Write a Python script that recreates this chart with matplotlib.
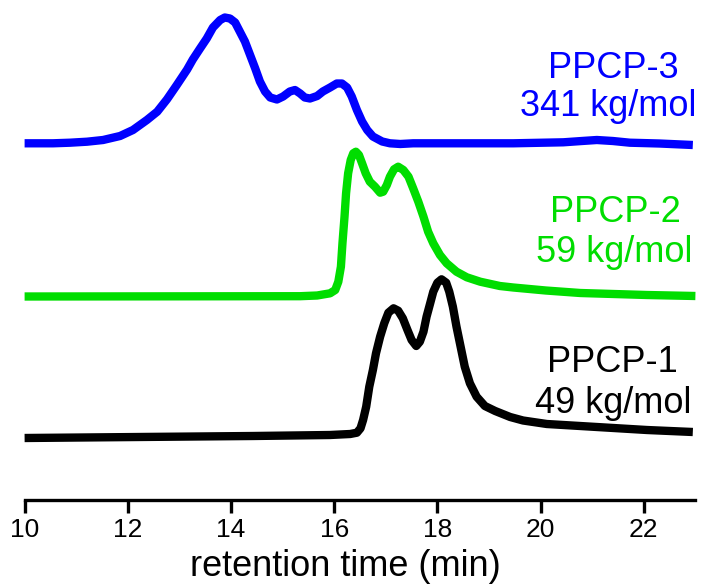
import matplotlib
matplotlib.use("Agg")
import matplotlib.pyplot as plt

W, H = 701, 585
DPI = 100

# ---------------- data ----------------
# retention time (min) and detector signal (arbitrary units, relative to each baseline)
t_ppcp3 = [10.0, 10.55, 10.88, 11.21, 11.52, 11.85, 12.10, 12.37, 12.57, 12.76, 12.95,
           13.15, 13.26, 13.40, 13.53, 13.65, 13.79, 13.88, 13.98, 14.08, 14.17, 14.27,
           14.37, 14.47, 14.56, 14.66, 14.76, 14.89, 15.01, 15.14, 15.24, 15.34, 15.43,
           15.53, 15.67, 15.78, 15.92, 16.05, 16.15, 16.25, 16.34, 16.44, 16.54, 16.64,
           16.75, 16.93, 17.08, 17.28, 17.53, 19.47, 20.44, 20.80, 21.09, 21.40, 21.73,
           22.30, 22.95]
s_ppcp3 = [0.2, 0.2, 0.8, 1.8, 3.5, 7.5, 13.5, 23.5, 31.8, 44.2, 58.5,
           74.0, 84.0, 95.0, 105.0, 116.0, 123.5, 126.0, 125.0, 121.0, 112.0, 102.0,
           88.5, 75.0, 62.0, 52.0, 46.0, 44.0, 47.0, 52.0, 53.5, 50.0, 46.0,
           45.0, 47.5, 52.0, 56.0, 60.0, 60.0, 56.0, 47.0, 33.5, 22.0, 13.5,
           7.0, 2.0, 0.2, -0.5, 0.2, 0.2, 1.2, 2.5, 3.5, 2.5, 0.8,
           0.0, -1.5]

t_ppcp2 = [10.0, 15.34, 15.67, 15.92, 16.02, 16.08, 16.13, 16.16, 16.20, 16.23, 16.27,
           16.32, 16.37, 16.42, 16.48, 16.54, 16.61, 16.69, 16.79, 16.89, 16.95, 17.02,
           17.08, 17.16, 17.24, 17.34, 17.44, 17.53, 17.63, 17.73, 17.82, 17.92, 18.05,
           18.18, 18.37, 18.57, 18.83, 19.21, 19.47, 20.10, 20.77, 22.06, 23.0]
s_ppcp2 = [0.0, 0.3, 1.0, 3.2, 6.5, 14.8, 29.8, 53.2, 79.8, 103.2, 123.2,
           136.5, 143.2, 144.8, 141.5, 133.2, 123.2, 114.8, 109.8, 103.8, 104.8, 111.5,
           119.8, 127.2, 129.8, 126.5, 119.8, 108.2, 94.8, 79.8, 64.8, 53.2, 41.5,
           33.2, 24.8, 19.2, 14.8, 10.5, 9.0, 6.0, 3.5, 1.5, 0.5]

t_ppcp1 = [10.0, 14.43, 15.92, 16.31, 16.44, 16.51, 16.56, 16.62, 16.68, 16.75, 16.81,
           16.89, 16.97, 17.05, 17.15, 17.24, 17.33, 17.42, 17.50, 17.59, 17.66, 17.73,
           17.79, 17.86, 17.92, 18.00, 18.08, 18.17, 18.23, 18.30, 18.37, 18.45, 18.53,
           18.63, 18.76, 18.92, 19.12, 19.41, 19.66, 20.12, 21.09, 22.06, 22.95]
s_ppcp1 = [0.0, 2.0, 3.0, 4.0, 5.3, 9.7, 18.0, 31.3, 51.3, 68.0, 84.7,
           101.3, 114.7, 125.3, 129.7, 127.3, 119.7, 108.0, 98.0, 92.0, 96.3, 106.3,
           121.3, 134.7, 146.3, 155.3, 158.7, 155.3, 146.3, 131.3, 111.3, 91.3, 71.3,
           54.7, 41.3, 32.0, 27.0, 21.0, 17.5, 14.0, 11.0, 8.0, 6.0]

names = ["PPCP-3", "PPCP-2", "PPCP-1"]
mw_labels = ["341 kg/mol", "59 kg/mol", "49 kg/mol"]
colors = ["#0000FF", "#00DD00", "#000000"]
offsets = [441.5, 288.5, 147.0]   # vertical stacking offsets of the traces

x_ticks = [10, 12, 14, 16, 18, 20, 22]
x_label = "retention time (min)"

# ---------------- figure ----------------
fig = plt.figure(figsize=(W / DPI, H / DPI), dpi=DPI)
axis_px = 500.0            # y pixel of the x-axis line (from top)
left_px, right_px = 24.6, 695.4
ax = fig.add_axes([left_px / W, (H - axis_px) / H, (right_px - left_px) / W, axis_px / H])
ax.set_xlim(10, 23)
ax.set_ylim(H - axis_px, H)

series = [(t_ppcp3, s_ppcp3), (t_ppcp2, s_ppcp2), (t_ppcp1, s_ppcp1)]
for (t, s), off, c in zip(series, offsets, colors):
    ax.plot(t, [off + v for v in s], color=c, lw=6.0, solid_capstyle="butt",
            solid_joinstyle="round", clip_on=False)

for sp in ["top", "right", "left"]:
    ax.spines[sp].set_visible(False)
ax.spines["bottom"].set_linewidth(2.4)
ax.set_yticks([])
ax.set_xticks(x_ticks)
ax.set_xticklabels([str(v) for v in x_ticks], fontfamily="Liberation Sans", fontsize=19)
ax.tick_params(axis="x", direction="out", length=9, width=2.4, pad=4)
ax.set_xlabel(x_label, fontfamily="Liberation Sans", fontsize=26)
ax.xaxis.label.set_va("center")
ax.xaxis.set_label_coords((345 - left_px) / (right_px - left_px), (H - 566 - (H - axis_px)) / axis_px)
ax.patch.set_alpha(0)

# labels at right
label_pos = [((613, 78), (608, 116)), ((615, 222), (614, 262)), ((612, 372), (613, 413))]
for (p1, p2), n, m, c in zip(label_pos, names, mw_labels, colors):
    fig.text(p1[0] / W, 1 - p1[1] / H, n, color=c, fontsize=26, family="Liberation Sans",
             ha="center", va="baseline")
    fig.text(p2[0] / W, 1 - p2[1] / H, m, color=c, fontsize=26, family="Liberation Sans",
             ha="center", va="baseline")

fig.savefig("out.png", dpi=DPI)
